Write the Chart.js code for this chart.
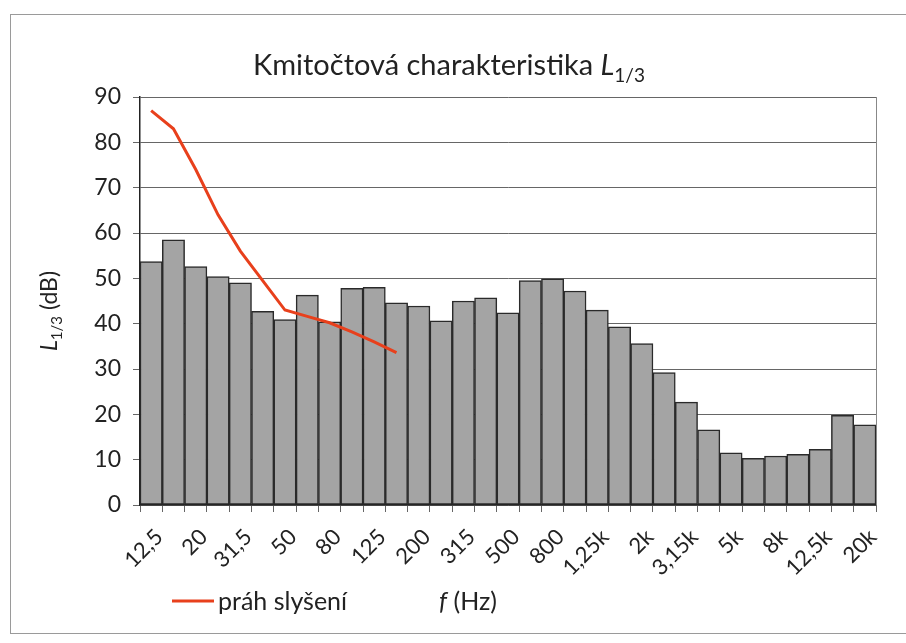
<!DOCTYPE html>
<html><head><meta charset="utf-8">
<script src="https://cdn.jsdelivr.net/npm/chart.js@4.4.0/dist/chart.umd.min.js"></script>
<style>html,body{margin:0;padding:0;background:#fff}#wrap{width:906px;height:643px}</style>
</head><body><div id="wrap"><canvas id="c" width="906" height="643"></canvas></div>
<script>
const categories = ['12,5','16','20','25','31,5','40','50','63','80','100','125','160','200','250','315','400','500','630','800','1k','1,25k','1,6k','2k','2,5k','3,15k','4k','5k','6,3k','8k','10k','12,5k','16k','20k'];
const levels = [53.7, 58.5, 52.6, 50.4, 49.0, 42.7, 40.9, 46.3, 40.4, 47.8, 48.0, 44.6, 43.9, 40.6, 45.0, 45.7, 42.4, 49.5, 49.9, 47.2, 43.0, 39.3, 35.6, 29.2, 22.7, 16.6, 11.5, 10.3, 10.8, 11.2, 12.3, 19.8, 17.7];
const threshold = [87, 83, 74, 64, 56, 49.5, 43, 41.6, 40.2, 38.2, 36, 33.6, null, null, null, null, null, null, null, null, null, null, null, null, null, null, null, null, null, null, null, null, null];
const yTicks = [0, 10, 20, 30, 40, 50, 60, 70, 80, 90];
const titleMain = 'Kmitočtová charakteristika ';
const legendLabel = 'práh slyšení';

const FONT = 'Lato, "Open Sans", sans-serif';
Chart.defaults.font.family = FONT;
Chart.defaults.color = '#333';

function drawSubText(ctx, x, y, parts) {
  let w = 0;
  parts.forEach(p => { ctx.font = (p.italic ? 'italic ' : '') + p.size + 'px ' + FONT; w += ctx.measureText(p.t).width; });
  let cx = x - w / 2;
  parts.forEach(p => {
    ctx.font = (p.italic ? 'italic ' : '') + p.size + 'px ' + FONT;
    ctx.fillText(p.t, cx, y + (p.dy || 0));
    cx += ctx.measureText(p.t).width;
  });
}

const decor = {
  id: 'decor',
  beforeDatasetsDraw(chart) {
    const ctx = chart.ctx, a = chart.chartArea;
    ctx.save();
    ctx.strokeStyle = '#888';
    ctx.lineWidth = 1;
    ctx.beginPath();
    ctx.moveTo(a.right + 0.5, a.top);
    ctx.lineTo(a.right + 0.5, a.bottom);
    ctx.stroke();
    ctx.restore();
  },
  afterDraw(chart) {
    const ctx = chart.ctx;
    ctx.save();
    ctx.strokeStyle = '#9a9a9a';
    ctx.lineWidth = 1;
    ctx.strokeRect(10.5, 14.5, 920, 619);
    ctx.fillStyle = '#222';
    ctx.textBaseline = 'alphabetic';
    ctx.textAlign = 'left';
    drawSubText(ctx, 449, 75, [
      {t: titleMain, size: 29},
      {t: 'L', size: 29, italic: true},
      {t: '1/3', size: 19, dy: 7}
    ]);
    ctx.save();
    ctx.translate(57, 311);
    ctx.rotate(-Math.PI / 2);
    drawSubText(ctx, 0, 0, [
      {t: 'L', size: 23, italic: true},
      {t: '1/3', size: 15, dy: 5},
      {t: ' (dB)', size: 23}
    ]);
    ctx.restore();
    drawSubText(ctx, 468, 610, [
      {t: 'f', size: 25, italic: true},
      {t: ' (Hz)', size: 25}
    ]);
    ctx.strokeStyle = '#e8401c';
    ctx.lineWidth = 3;
    ctx.beginPath();
    ctx.moveTo(172, 601);
    ctx.lineTo(214, 601);
    ctx.stroke();
    ctx.font = '25px ' + FONT;
    ctx.fillStyle = '#222';
    ctx.fillText(legendLabel, 218, 610);
    ctx.restore();
  }
};

new Chart(document.getElementById('c'), {
  data: {
    labels: categories,
    datasets: [
      {
        type: 'line',
        label: legendLabel,
        data: threshold,
        borderColor: '#e8401c',
        borderWidth: 3,
        pointRadius: 0,
        tension: 0,
        spanGaps: false,
        order: 0
      },
      {
        type: 'bar',
        label: 'L1/3',
        data: levels,
        backgroundColor: '#a4a4a4',
        borderColor: '#2a2a2a',
        borderWidth: 1.5,
        borderSkipped: false,
        categoryPercentage: 1,
        barPercentage: 1,
        order: 1
      }
    ]
  },
  options: {
    responsive: false,
    animation: false,
    devicePixelRatio: 1,
    layout: {padding: {left: 0, right: 30, top: 97, bottom: 0}},
    plugins: {legend: {display: false}, title: {display: false}, tooltip: {enabled: false}},
    scales: {
      x: {
        type: 'category',
        offset: true,
        grid: {offset: true, drawOnChartArea: false, drawTicks: true, tickLength: 7, color: '#666'},
        border: {display: true, color: '#222', width: 1.5},
        ticks: {
          autoSkip: false,
          minRotation: 45,
          maxRotation: 45,
          padding: 12,
          labelOffset: 8,
          color: '#222',
          font: {size: 22},
          callback: function(v, i) { return i % 2 === 0 ? categories[i] : ''; }
        },
        afterFit(s) { s.height = 138; }
      },
      y: {
        min: 0,
        max: 90,
        afterBuildTicks(s) { s.ticks = yTicks.map(v => ({value: v})); },
        grid: {color: '#666', lineWidth: 1, tickLength: 7, drawTicks: true},
        border: {display: true, color: '#222', width: 1.5},
        ticks: {padding: 12, color: '#222', font: {size: 23}},
        afterFit(s) { s.width = 140; }
      }
    }
  },
  plugins: [decor]
});
</script>
</body></html>
